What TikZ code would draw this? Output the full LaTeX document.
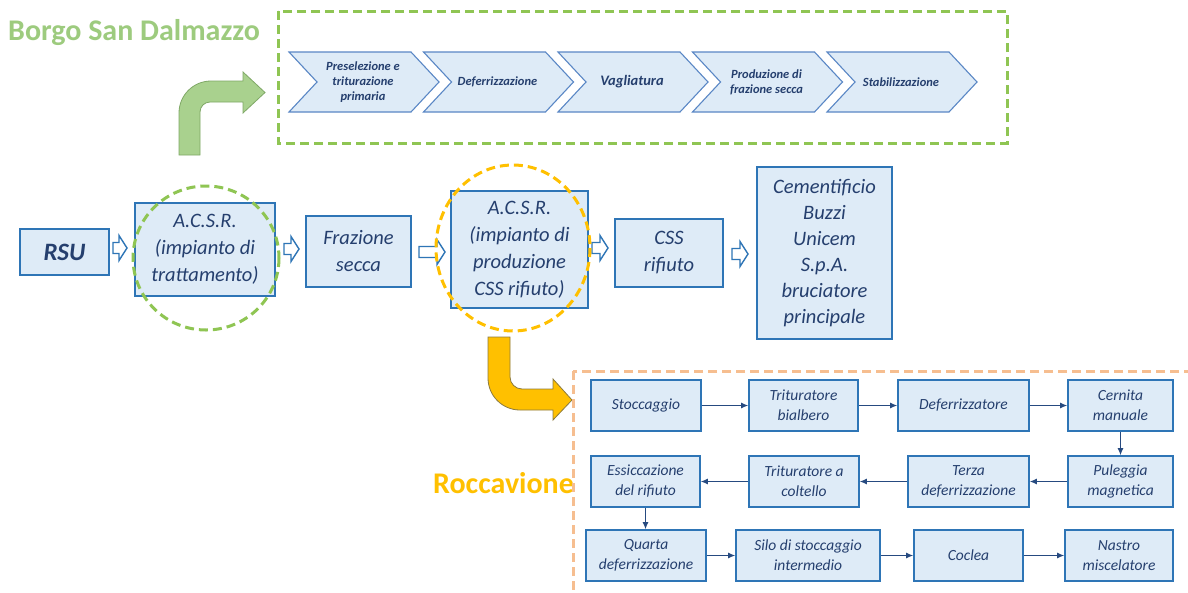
\documentclass[tikz,border=0pt]{standalone}
\usepackage{fontspec}
\setmainfont{Carlito}
\usetikzlibrary{arrows.meta,calc}
\definecolor{bfill}{HTML}{DEEBF7}
\definecolor{bdraw}{HTML}{2E75B6}
\definecolor{tcol}{HTML}{253F6E}
\definecolor{chevdraw}{HTML}{5A87C5}
\definecolor{gline}{HTML}{264A80}
\definecolor{gdash}{HTML}{8FC553}
\definecolor{gtitle}{HTML}{9DCB7E}
\definecolor{garrow}{HTML}{A9D18E}
\definecolor{garrowd}{HTML}{7FA866}
\definecolor{ogold}{HTML}{FFC000}
\definecolor{ogoldd}{HTML}{8C7A3E}
\definecolor{odash}{HTML}{F6BE90}
\tikzset{
  mainbox/.style={draw=bdraw, line width=2.4pt, fill=bfill, inner sep=0pt, align=center,
    font=\fontsize{20.5}{27}\selectfont\itshape, text=tcol},
  gbox/.style={draw=bdraw, line width=1.6pt, fill=bfill, inner sep=0pt, align=center,
    font=\fontsize{15.5}{20}\selectfont\itshape, text=tcol},
  chev/.style={draw=chevdraw, line width=1.1pt, fill=bfill, line join=miter},
  chevtxt/.style={inner sep=0pt, align=center, font=\fontsize{12.5}{15}\selectfont\bfseries\itshape, text=tcol},
  flow/.style={draw=gline, line width=1.1pt, -{Latex[length=7pt,width=6pt]}},
  barrow/.style={draw=bdraw, line width=1.4pt, fill=white, line join=miter},
  title/.style={inner sep=0pt, anchor=west, font=\fontsize{30}{32}\selectfont\bfseries},
}
\newcommand{\chevron}[4]{%
  \draw[chev] (#1,52) -- ({#1+122},52) -- ({#1+150},82) -- ({#1+122},112) -- (#1,112) -- ({#1+28},82) -- cycle;
  \node[chevtxt,#4] (#2) at ({#1+74},82) {#3};}
\newcommand{\blockarrow}[3]{%
  \draw[barrow] (#1,{#3-5.5}) -- ({#2-8},{#3-5.5}) -- ({#2-8},{#3-12.5}) -- (#2,#3) -- ({#2-8},{#3+12.5}) -- ({#2-8},{#3+5.5}) -- (#1,{#3+5.5}) -- cycle;}
\begin{document}
\begin{tikzpicture}[x=1pt,y=-1pt]
\path[use as bounding box, fill=white] (0,0) rectangle (1188,592);

% ---------- Borgo San Dalmazzo ----------
\node[title, text=gtitle] (borgo) at (8,33) {Borgo San Dalmazzo};
\draw[gdash, line width=3pt, dash pattern=on 9pt off 5pt] (278,11) rectangle (1007,143);
\chevron{289}{c1}{Preselezione e\\triturazione\\primaria}{}
\chevron{423.5}{c2}{Deferrizzazione}{}
\chevron{558}{c3}{Vagliatura}{font=\fontsize{14.5}{16}\selectfont\bfseries\itshape}
\chevron{692.5}{c4}{Produzione di\\frazione secca}{}
\chevron{827}{c5}{Stabilizzazione}{}

% green bent arrow
\draw[fill=garrow, draw=garrowd, line width=0.8pt, line join=miter]
  (179,155) -- (179,113) .. controls (179,95.3) and (193.3,81) .. (211,81)
  -- (243,81) -- (243,72) -- (265,92.5) -- (243,113) -- (243,102) -- (210,102)
  .. controls (204.5,102) and (200,106.5) .. (200,112) -- (200,155) -- cycle;

% ---------- main row ----------
\node[mainbox, minimum width=89pt, minimum height=46pt, font=\fontsize{25}{28}\selectfont\bfseries\itshape] (rsu) at (64.5,252) {RSU};
\node[mainbox, minimum width=140pt, minimum height=93pt] (acsr1) at (205,249.5) {A.C.S.R.\\(impianto di\\trattamento)};
\node[mainbox, minimum width=105pt, minimum height=71pt] (fraz) at (358.5,251.5) {Frazione\\secca};
\node[mainbox, minimum width=137pt, minimum height=117pt] (acsr2) at (519.5,249.5) {A.C.S.R.\\(impianto di\\produzione\\CSS rifiuto)};
\node[mainbox, minimum width=108pt, minimum height=68pt] (css) at (669,253) {CSS\\rifiuto};
\node[mainbox, minimum width=135pt, minimum height=172pt, font=\fontsize{20.5}{26}\selectfont\itshape] (cem) at (824.5,253) {Cementificio\\Buzzi\\Unicem\\S.p.A.\\bruciatore\\principale};

\blockarrow{113}{127}{248}
\blockarrow{284}{299}{249}
\blockarrow{419}{445}{252}
\blockarrow{592}{608}{248}
\blockarrow{732}{748}{254}

% dashed ellipses
\draw[gdash, line width=3pt, dash pattern=on 9pt off 5pt] (206,258) ellipse [x radius=73, y radius=72];
\draw[ogold, line width=3pt, dash pattern=on 9pt off 5pt] (513,248) ellipse [x radius=77, y radius=83];

% orange bent arrow
\draw[fill=ogold, draw=ogoldd, line width=0.8pt, line join=miter]
  (488,337) -- (488,378) .. controls (488,395.7) and (502.3,410) .. (520,410)
  -- (553,410) -- (553,420) -- (572,400) -- (553,379) -- (553,389) -- (522,389)
  .. controls (515.4,389) and (510,383.6) .. (510,377) -- (510,337) -- cycle;

% ---------- Roccavione ----------
\node[title, text=ogold] (rocca) at (433,483) {Roccavione};
\begin{scope}
\clip (0,0) rectangle (1188,592);
\draw[odash, line width=3pt, dash pattern=on 9pt off 5pt] (573,371) rectangle (1230,640);
\end{scope}

\node[gbox, minimum width=110pt, minimum height=51pt] (stocc) at (646,405.5) {Stoccaggio};
\node[gbox, minimum width=109pt, minimum height=51pt] (trib) at (803.5,405.5) {Trituratore\\bialbero};
\node[gbox, minimum width=131pt, minimum height=51pt] (defz) at (963.5,405.5) {Deferrizzatore};
\node[gbox, minimum width=105pt, minimum height=51pt] (cern) at (1120.5,405.5) {Cernita\\manuale};

\node[gbox, minimum width=109pt, minimum height=51pt] (essic) at (645.5,481.5) {Essiccazione\\del rifiuto};
\node[gbox, minimum width=110pt, minimum height=51pt] (tcolt) at (804,481.5) {Trituratore a\\coltello};
\node[gbox, minimum width=121pt, minimum height=51pt] (terza) at (968.5,481.5) {Terza\\deferrizzazione};
\node[gbox, minimum width=105pt, minimum height=51pt] (puleg) at (1120.5,481.5) {Puleggia\\magnetica};

\node[gbox, minimum width=120pt, minimum height=51pt] (quarta) at (646,555.5) {Quarta\\deferrizzazione};
\node[gbox, minimum width=144pt, minimum height=51pt] (silo) at (808,555.5) {Silo di stoccaggio\\intermedio};
\node[gbox, minimum width=109pt, minimum height=51pt] (coclea) at (968.5,555.5) {Coclea};
\node[gbox, minimum width=108pt, minimum height=51pt] (nastro) at (1119,555.5) {Nastro\\miscelatore};

\draw[flow] (stocc) -- (trib);
\draw[flow] (trib) -- (defz);
\draw[flow] (defz) -- (cern);
\draw[flow] (cern) -- (puleg);
\draw[flow] (puleg) -- (terza);
\draw[flow] (terza) -- (tcolt);
\draw[flow] (tcolt) -- (essic);
\draw[flow] (essic) -- (essic.south |- quarta.north);
\draw[flow] (quarta) -- (silo);
\draw[flow] (silo) -- (coclea);
\draw[flow] (coclea) -- (nastro);
\end{tikzpicture}
\end{document}
